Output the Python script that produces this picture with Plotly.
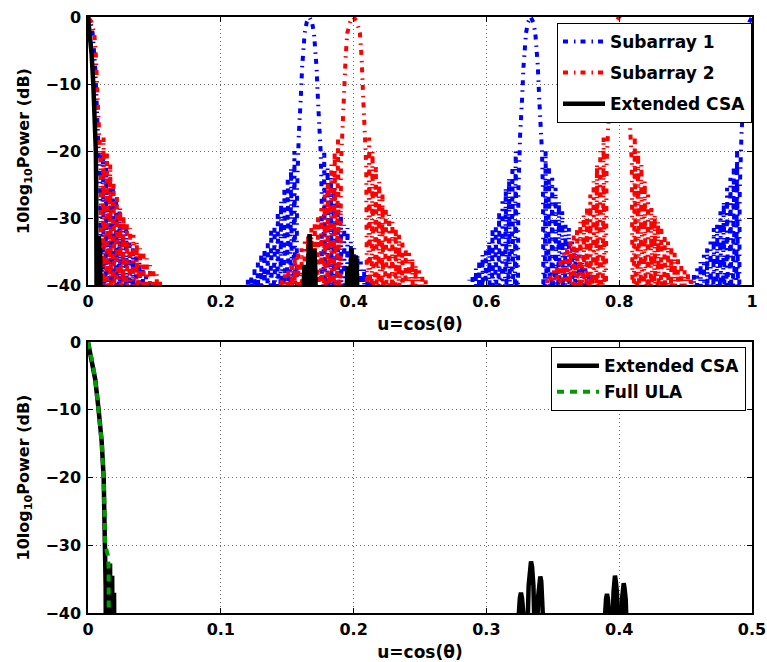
import plotly.graph_objects as go

# ---------------- data ----------------
# Subarray 1 (blue): grating-lobe centres and lobe shape (offset from centre, dB)
SUB1_CENTERS = [0.0, 1/3, 2/3, 1.0]
SUB1_MAIN_OFF = [0.0, 0.004, 0.007, 0.0108, 0.013, 0.0158, 0.017, 0.0185, 0.020]
SUB1_MAIN_DB = [0.0, -0.8, -2.4, -7.4, -12.4, -17.4, -20.0, -26.0, -60.0]
SUB1_SIDE_OFF = [0.0225, 0.0250, 0.0275, 0.0300, 0.0325, 0.0350, 0.0375, 0.0400,
                 0.0425, 0.0450, 0.0475, 0.0500, 0.0525, 0.0550, 0.0575, 0.0600,
                 0.0625, 0.0650, 0.0675, 0.0700, 0.0725, 0.0750, 0.0775, 0.0800,
                 0.0825, 0.0850, 0.0875, 0.0900, 0.0925, 0.0950, 0.0975, 0.1000]
SUB1_SIDE_DB = [-20.0, -60, -22.5, -60, -24.0, -60, -25.5, -60,
                -27.5, -60, -29.0, -60, -31.0, -60, -31.5, -60,
                -33.5, -60, -34.5, -60, -35.5, -60, -36.5, -60,
                -37.5, -60, -38.5, -60, -39.2, -60, -40.5, -60]

# Subarray 2 (red)
SUB2_CENTERS = [0.0, 0.4, 0.8]
SUB2_MAIN_OFF = [0.0, 0.005, 0.0095, 0.012, 0.0146, 0.017, 0.019, 0.021]
SUB2_MAIN_DB = [0.0, -0.7, -2.4, -6.0, -12.4, -17.0, -22.0, -60.0]
SUB2_SIDE_OFF = [0.0235, 0.026, 0.0285, 0.031, 0.0335, 0.036, 0.0385, 0.041,
                 0.0435, 0.046, 0.0485, 0.051, 0.0535, 0.056, 0.0585, 0.061,
                 0.0635, 0.066, 0.0685, 0.071, 0.0735, 0.076, 0.0785, 0.081,
                 0.0835, 0.086, 0.0885, 0.091, 0.0935, 0.096, 0.0985, 0.101,
                 0.1035, 0.106, 0.1085, 0.111, 0.1135, 0.116]
SUB2_SIDE_DB = [-18.0, -60, -20.0, -60, -22.0, -60, -24.5, -60,
                -26.5, -60, -28.5, -60, -29.5, -60, -30.5, -60,
                -31.5, -60, -32.5, -60, -33.5, -60, -34.5, -60,
                -35.2, -60, -36.0, -60, -37.0, -60, -37.8, -60,
                -38.4, -60, -39.3, -60, -40.5, -60]

# Extended CSA (black)
EXT_U = [0.0, 0.0035, 0.0055, 0.008, 0.0103, 0.0118, 0.0123, 0.0130, 0.0133, 0.0136,
         0.0150, 0.0158, 0.0166, 0.0174, 0.0182, 0.0189, 0.0196, 0.0203,
         0.3228, 0.3242, 0.3252, 0.3260, 0.3268, 0.3278, 0.3292,
         0.3306, 0.3318, 0.3328, 0.3336, 0.3344, 0.3354, 0.3366,
         0.3378, 0.3390, 0.3399, 0.3406, 0.3413, 0.3422, 0.3436,
         0.3880, 0.3892, 0.3901, 0.3908, 0.3915, 0.3924, 0.3936,
         0.3946, 0.3957, 0.3962, 0.3968, 0.3974, 0.3983, 0.3994,
         0.4010, 0.4021, 0.4028, 0.4034, 0.4040, 0.4049, 0.4060]
EXT_DB = [0.0, -3.1, -5.6, -10.0, -14.7, -20.0, -24.5, -30.0, -36.0, -60.0,
          -33.5, -60.0, -32.7, -60.0, -34.5, -60.0, -37.0, -60.0,
          -45.0, -40.0, -37.8, -37.0, -37.8, -40.0, -45.0,
          -45.0, -36.0, -33.2, -32.4, -33.2, -36.0, -45.0,
          -45.0, -37.5, -35.3, -34.6, -35.3, -37.5, -45.0,
          -45.0, -40.0, -37.9, -37.2, -37.9, -40.0, -45.0,
          -45.0, -37.0, -35.2, -34.5, -35.2, -37.0, -45.0,
          -45.0, -38.0, -36.3, -35.6, -36.3, -38.0, -45.0]

# Full ULA (green)
ULA_U = [0.0, 0.0035, 0.0055, 0.008, 0.0103, 0.0118, 0.0123, 0.0130, 0.0150, 0.0155, 0.0160]
ULA_DB = [0.0, -3.1, -5.6, -10.0, -14.7, -20.0, -24.5, -30.0, -31.5, -33.0, -60.0]

TOP_XTICKS = [0, 0.2, 0.4, 0.6, 0.8, 1]
BOT_XTICKS = [0, 0.1, 0.2, 0.3, 0.4, 0.5]
YTICKS = [-40, -30, -20, -10, 0]


def build_lobes(centers, main_off, main_db, side_off, side_db):
    u, d = [], []
    for c in centers:
        for o, v in zip(reversed(side_off), reversed(side_db)):
            u.append(c - o); d.append(v)
        for o, v in zip(reversed(main_off[1:]), reversed(main_db[1:])):
            u.append(c - o); d.append(v)
        u.append(c); d.append(main_db[0])
        for o, v in zip(main_off[1:], main_db[1:]):
            u.append(c + o); d.append(v)
        for o, v in zip(side_off, side_db):
            u.append(c + o); d.append(v)
    return u, d


s1u, s1d = build_lobes(SUB1_CENTERS, SUB1_MAIN_OFF, SUB1_MAIN_DB, SUB1_SIDE_OFF, SUB1_SIDE_DB)
s2u, s2d = build_lobes(SUB2_CENTERS, SUB2_MAIN_OFF, SUB2_MAIN_DB, SUB2_SIDE_OFF, SUB2_SIDE_DB)

FONT = "DejaVu Sans"
DASHDOT = "5px,6px,1.5px,5px"

fig = go.Figure()
fig.add_trace(go.Scatter(x=s1u, y=s1d, mode="lines", name="<b>Subarray 1</b>",
                         line=dict(color="#0000ff", width=4, dash=DASHDOT),
                         xaxis="x", yaxis="y", legend="legend", legendgroup="a"))
fig.add_trace(go.Scatter(x=s2u, y=s2d, mode="lines", name="<b>Subarray 2</b>",
                         line=dict(color="#ff0000", width=4, dash=DASHDOT),
                         xaxis="x", yaxis="y", legend="legend", legendgroup="b"))
fig.add_trace(go.Scatter(x=EXT_U, y=EXT_DB, mode="lines", name="<b>Extended CSA</b>",
                         line=dict(color="black", width=4.5),
                         xaxis="x", yaxis="y", legend="legend", legendgroup="c"))
fig.add_trace(go.Scatter(x=EXT_U, y=EXT_DB, mode="lines", name="<b>Extended CSA</b>",
                         line=dict(color="black", width=4.5),
                         xaxis="x2", yaxis="y2", legend="legend2", legendgroup="d"))
fig.add_trace(go.Scatter(x=ULA_U, y=ULA_DB, mode="lines", name="<b>Full ULA</b>",
                         line=dict(color="rgb(0,155,0)", width=4, dash="7px,6px"),
                         xaxis="x2", yaxis="y2", legend="legend2", legendgroup="e"))

axis_common = dict(showline=True, linecolor="black", linewidth=1.5, mirror="ticks",
                   ticks="inside", ticklen=5, tickwidth=1, tickcolor="black",
                   showgrid=True, gridcolor="rgb(110,110,110)", griddash="1px,3px", gridwidth=1,
                   zeroline=False, automargin=False,
                   tickfont=dict(family=FONT, size=16, color="black", weight="bold"))

xt = dict(text="<b>u=cos(θ)</b>", font=dict(family=FONT, size=17, color="black"), standoff=8)
yt = dict(text="<b>10log<sub>10</sub>Power (dB)</b>", font=dict(family=FONT, size=16, color="black"), standoff=12)

fig.update_layout(
    width=767, height=662,
    margin=dict(l=88, r=15, t=17, b=49, autoexpand=False),
    paper_bgcolor="white", plot_bgcolor="white",
    xaxis=dict(domain=[0, 1], range=[0, 1], tickvals=TOP_XTICKS, anchor="y", title=xt,
               ticklabelstandoff=1, **axis_common),
    yaxis=dict(domain=[0.5503, 1.0], range=[-40, 0], tickvals=YTICKS, anchor="x", title=yt,
               ticklabelstandoff=2, **axis_common),
    xaxis2=dict(domain=[0, 1], range=[0, 0.5], tickvals=BOT_XTICKS, anchor="y2", title=xt,
                ticklabelstandoff=1, **axis_common),
    yaxis2=dict(domain=[0, 0.4547], range=[-40, 0], tickvals=YTICKS, anchor="x2", title=yt,
                ticklabelstandoff=2, **axis_common),
    legend=dict(x=1.0, y=0.99, xanchor="right", yanchor="top", bgcolor="white",
                bordercolor="black", borderwidth=1, tracegroupgap=6, itemwidth=42,
                font=dict(family=FONT, size=17, color="black")),
    legend2=dict(x=0.991, y=0.446, xanchor="right", yanchor="top", bgcolor="white",
                 bordercolor="black", borderwidth=1, tracegroupgap=1, itemwidth=42,
                 font=dict(family=FONT, size=17, color="black")),
    showlegend=True,
)

fig.write_html("out.html", config={"displayModeBar": False},
               post_script="document.body.style.margin='0px';")
